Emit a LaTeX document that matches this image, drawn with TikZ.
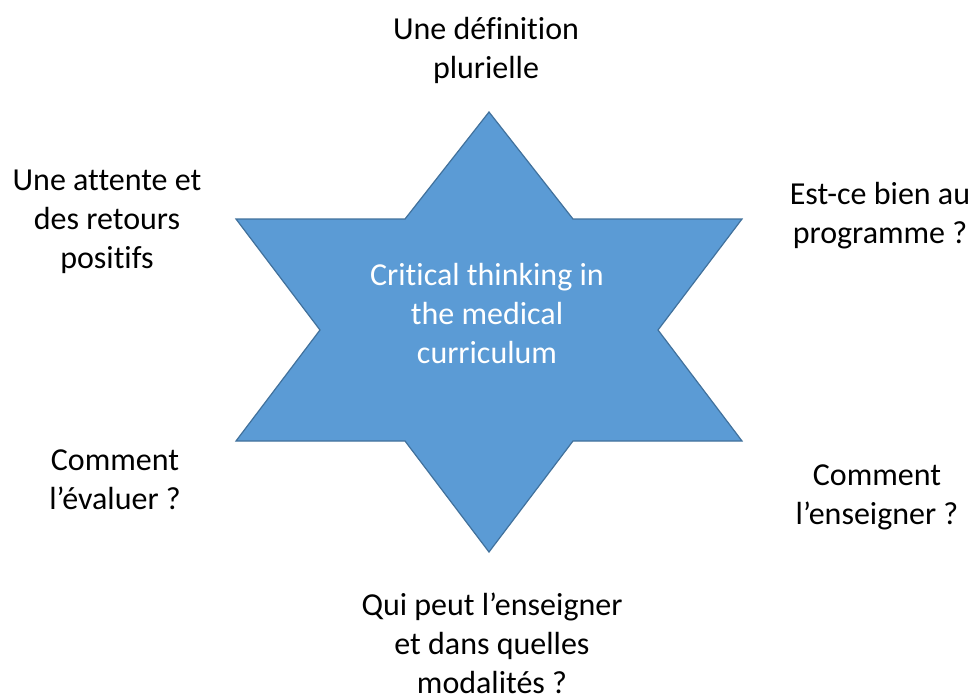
\documentclass[tikz,border=0pt]{standalone}
\usepackage{fontspec}
\setmainfont{Carlito}[RawFeature={-liga}]
\usepackage{tikz}
\usepackage{xcolor}

\definecolor{starblue}{HTML}{5B9BD5}
\definecolor{staredge}{HTML}{41719C}

\begin{document}
\begin{tikzpicture}[
      x = 1pt, y = -1pt,
      every node/.style = {align = center, inner sep = 0pt, font = \fontsize{32}{39}\selectfont},
      star/.style = {fill = starblue, draw = staredge, line width = 1.2pt, line join = miter},
      centre/.style = {text = white}
      ]
      \useasboundingbox (0,0) rectangle (972,696);
      % the six-pointed star
      \draw[star] (489,112) -- (573,219) -- (742,219) -- (658,330) -- (742,441)
            -- (573,441) -- (489,552) -- (405,441) -- (236,441) -- (320,330)
            -- (236,219) -- (405,219) -- cycle;
      \node[centre] (theme) at (487,314) {Critical thinking in\\the medical\\curriculum};
      % the questions round it
      \node (definition) at (486,50) {Une définition\\plurielle};
      \node (attente) at (107,222) {Une attente et\\des retours\\positifs};
      \node (programme) at (880,216) {Est-ce bien au\\programme ?};
      \node (evaluer) at (115,480) {Comment\\l’évaluer ?};
      \node (enseigner) at (877,497) {Comment\\l’enseigner ?};
      \node (modalites) at (492,643) {Qui peut l’enseigner\\et dans quelles\\modalités ?};
\end{tikzpicture}
\end{document}
